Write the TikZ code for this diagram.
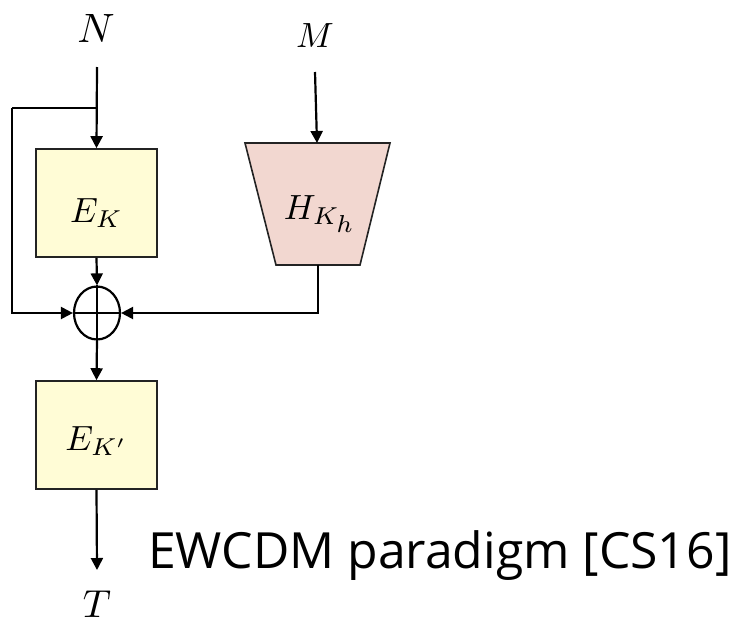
\documentclass[tikz,border=0pt]{standalone}
\usepackage{fontspec}
\newfontfamily\capfont{Open Sans}
\usetikzlibrary{arrows.meta,shapes.geometric}
\definecolor{boxfill}{RGB}{255,252,214}
\definecolor{hashfill}{RGB}{242,215,208}
\definecolor{boxline}{RGB}{35,35,35}
\begin{document}
\begin{tikzpicture}[x=1pt,y=-1pt,
  wire/.style={line width=2.2pt,black},
  arr/.style={wire,-{Triangle[length=12pt,width=12pt]}},
  blockbox/.style={draw=boxline,line width=1.6pt,fill=boxfill,minimum width=121pt,minimum height=108pt,inner sep=0pt},
  mathlbl/.style={inner sep=0pt}]
\useasboundingbox (0,0) rectangle (735,624);
% labels
\node[mathlbl] (N) at (96,28) {\scalebox{4.1}{$N$}};
\node[mathlbl] (M) at (315,36) {\scalebox{3.5}{$M$}};
\node[mathlbl] (T) at (97,604) {\scalebox{3.9}{$T$}};
% blocks
\node[blockbox] (EK) at (96.5,203) {};
\node[mathlbl] (EKl) at (96.5,213) {\scalebox{3.5}{$E_K$}};
\node[blockbox] (EK2) at (96.5,435) {};
\node[mathlbl] (EK2l) at (96.5,441) {\scalebox{3.5}{$E_{K'}$}};
% hash trapezoid
\coordinate (h1) at (245,143);
\coordinate (h2) at (390,143);
\coordinate (h3) at (360,265);
\coordinate (h4) at (276,265);
\draw[draw=boxline,line width=1.6pt,fill=hashfill] (h1) -- (h2) -- (h3) -- (h4) -- cycle;
\node[mathlbl] (H) at (320,214) {\scalebox{3.5}{$H_{K_{\scriptstyle h}}$}};
% xor
\node[ellipse,draw,line width=2.2pt,minimum width=46pt,minimum height=53pt,inner sep=0pt] (X) at (97,313) {};
\draw[wire] (X.north) -- (X.south) (X.west) -- (X.east);
% coordinates
\coordinate (Nend) at (97,67);
\coordinate (br) at (97,108);
\coordinate (fb) at (12,108);
\coordinate (Mend) at (315,72);
\coordinate (Htop) at (317,143);
\coordinate (Hbot) at (318,265);
\coordinate (Tend) at (97,570);
% connectors
\draw[arr] (Nend) -- (EK.north);
\draw[wire] (br) -- (fb);
\draw[arr] (fb) |- (X.west);
\draw[arr] (EK.south) -- (X.north);
\draw[arr] (Mend) -- (Htop);
\draw[arr] (Hbot) |- (X.east);
\draw[arr] (X.south) -- (EK2.north);
\draw[arr] (EK2.south) -- (Tend);
% caption
\node[anchor=base west,inner sep=0pt] (cap) at (148,568) {\resizebox{583pt}{!}{\capfont EWCDM paradigm [CS16]}};
\end{tikzpicture}
\end{document}
